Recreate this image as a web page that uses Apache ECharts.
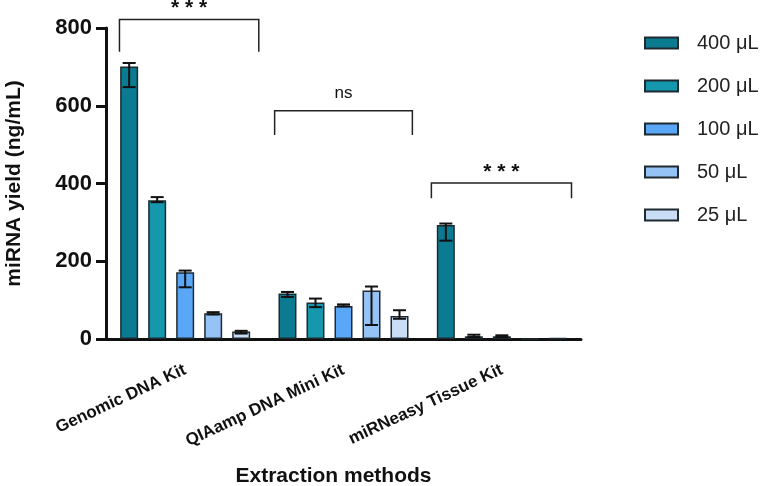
<!DOCTYPE html>
<html>
<head>
<meta charset="utf-8">
<script src="https://cdn.jsdelivr.net/npm/echarts@6/dist/echarts.min.js"></script>
<style>html,body{margin:0;padding:0;background:#fff;}#chart{width:762px;height:486px;}</style>
</head>
<body>
<div id="chart"></div>
<script>
// ---- data ----
const categories = ['Genomic DNA Kit', 'QIAamp DNA Mini Kit', 'miRNeasy Tissue Kit'];
const seriesNames = ['400 μL', '200 μL', '100 μL', '50 μL', '25 μL'];
const v400 = [701, 117, 293];
const v200 = [357, 94, 7];
const v100 = [172, 85, 7];
const v50  = [66, 125, 0];
const v25  = [19, 59, 2];
// error bars: [low, high] per category
const e400 = [[648, 710], [108, 121], [253, 297]];
const e200 = [[352, 365], [82, 104], [5, 11]];
const e100 = [[133, 176], [84, 89], [5, 9.5]];
const e50  = [[63, 69], [36, 135], [0, 0]];
const e25  = [[14, 21], [52, 74], [1.5, 2]];
const yTicks = [0, 200, 400, 600, 800];
// significance brackets: category, bracket level, drop level, left/right extent (category units)
const bracketCat = [0, 1, 2];
const bracketTop = [822, 587, 401];
const bracketDrop = [739, 525, 362];
const bracketSpan = [[-0.415, 0.465], [-0.435, 0.435], [-0.445, 0.44]];
const bracketLabel = ['* * *', 'ns', '* * *'];

const values = [v400, v200, v100, v50, v25];
const errors = [e400, e200, e100, e50, e25];
const colors = ['#0a7b91', '#1597ae', '#5ba7f7', '#95c3f6', '#c9ddf6'];
const FONT = '"Liberation Sans", Arial, Helvetica, sans-serif';
const BAR_W = 18, BAR_GAP = 10, PITCH = BAR_W + BAR_GAP;

const chart = echarts.init(document.getElementById('chart'), null, { width: 762, height: 486 });

const series = [];
values.forEach((vals, si) => {
  series.push({
    name: seriesNames[si],
    type: 'bar',
    data: vals,
    barWidth: BAR_W,
    barGap: (BAR_GAP / BAR_W * 100).toFixed(1) + '%',
    itemStyle: { color: colors[si], borderColor: '#1e2a30', borderWidth: 1.5 },
    emphasis: { disabled: true },
    z: 2
  });
});
errors.forEach((errs, si) => {
  series.push({
    type: 'custom',
    silent: true,
    z: 10,
    data: errs.map((e, ci) => [ci, e[0], e[1]]),
    renderItem: (params, api) => {
      const c = api.value(0);
      const lo = api.coord([c, api.value(1)]);
      const hi = api.coord([c, api.value(2)]);
      if (Math.abs(lo[1] - hi[1]) < 0.5) return null;
      const x = lo[0] + (si - 2) * PITCH;
      const cw = 6.5;
      const st = { stroke: '#111', lineWidth: 2 };
      return {
        type: 'group',
        children: [
          { type: 'line', shape: { x1: x, y1: lo[1], x2: x, y2: hi[1] }, style: st },
          { type: 'line', shape: { x1: x - cw, y1: hi[1], x2: x + cw, y2: hi[1] }, style: st },
          { type: 'line', shape: { x1: x - cw, y1: lo[1], x2: x + cw, y2: lo[1] }, style: st }
        ]
      };
    }
  });
});
series.push({
  type: 'custom',
  silent: true,
  clip: false,
  z: 10,
  data: bracketCat.map((c, i) => [c, bracketTop[i], bracketDrop[i], bracketSpan[i][0], bracketSpan[i][1], i]),
  renderItem: (params, api) => {
    const c = api.value(0);
    const i = api.value(5);
    const left = api.coord([c, api.value(1)]);
    const band = api.size([1, 0])[0];
    const yTop = left[1];
    const yDrop = api.coord([c, api.value(2)])[1];
    const x0 = left[0] + api.value(3) * band;
    const x1 = left[0] + api.value(4) * band;
    const st = { stroke: '#222', lineWidth: 1.5, fill: null };
    const isNs = bracketLabel[i] === 'ns';
    return {
      type: 'group',
      children: [
        { type: 'polyline', shape: { points: [[x0, yDrop], [x0, yTop], [x1, yTop], [x1, yDrop]] }, style: st },
        { type: 'text', style: {
            text: bracketLabel[i], x: (x0 + x1) / 2, y: yTop - (isNs ? 17 : 11),
            align: 'center', verticalAlign: 'middle',
            fontSize: isNs ? 17 : 21, fontWeight: isNs ? 'normal' : 'bold',
            fontFamily: FONT, fill: '#111'
        } }
      ]
    };
  }
});

chart.setOption({
  animation: false,
  backgroundColor: '#ffffff',
  textStyle: { fontFamily: FONT },
  grid: { left: 106, top: 28, width: 475, height: 311, containLabel: false, outerBoundsMode: 'none' },
  legend: {
    data: seriesNames,
    orient: 'vertical',
    left: 639, top: 28,
    icon: 'rect',
    itemWidth: 33, itemHeight: 11,
    itemGap: 23,
    selectedMode: false,
    textStyle: { fontSize: 20, color: '#222', fontFamily: FONT, padding: [0, 0, 0, 14] }
  },
  xAxis: {
    type: 'category',
    data: categories,
    name: 'Extraction methods',
    nameLocation: 'middle',
    nameGap: 127,
    nameTextStyle: { fontSize: 21, fontWeight: 'bold', color: '#111', fontFamily: FONT, padding: [0, 20, 0, 0] },
    axisLine: { lineStyle: { color: '#111', width: 3 } },
    axisTick: { alignWithLabel: true, length: 12, lineStyle: { color: '#111', width: 3 } },
    axisLabel: { rotate: 25, fontSize: 17, fontWeight: 'bold', color: '#111', margin: 30, fontFamily: FONT, interval: 0 }
  },
  yAxis: {
    type: 'value',
    min: yTicks[0], max: yTicks[yTicks.length - 1], interval: yTicks[1] - yTicks[0],
    name: 'miRNA yield (ng/mL)',
    nameLocation: 'middle',
    nameGap: 81,
    nameTextStyle: { fontSize: 21, fontWeight: 'bold', color: '#111', fontFamily: FONT },
    axisLine: { show: true, lineStyle: { color: '#111', width: 3 } },
    axisTick: { show: true, length: 10, lineStyle: { color: '#111', width: 3 } },
    splitLine: { show: false },
    axisLabel: { fontSize: 22, fontWeight: 'bold', color: '#111', margin: 14, fontFamily: FONT }
  },
  series: series
});
</script>
</body>
</html>
